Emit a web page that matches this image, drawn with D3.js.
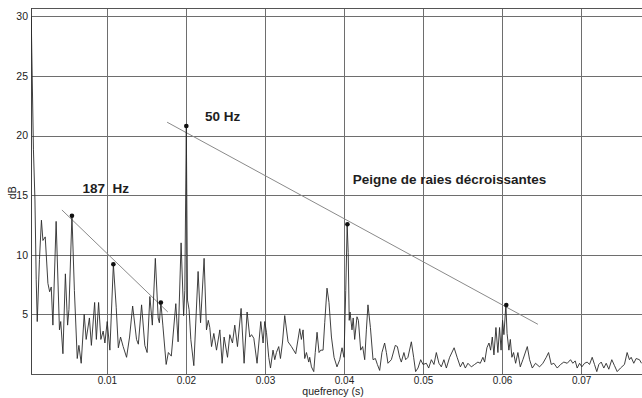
<!DOCTYPE html>
<html>
<head>
<meta charset="utf-8">
<script src="https://cdn.jsdelivr.net/npm/d3@7"></script>
<style>
  html, body { margin: 0; padding: 0; background: #fff; }
  svg { display: block; }
  text { font-family: "Liberation Sans", Arial, sans-serif; }
</style>
</head>
<body>
<svg id="chart" width="642" height="398"></svg>
<script>
// Cepstrum trace: quefrency (ms) and level (dB)
const quefrencyMs = [
  0.43,0.50,0.71,0.90,1.06,1.19,1.47,1.72,1.91,2.20,2.54,2.76,2.96,3.17,3.58,4.00,4.16,4.44,4.75,5.03,
  5.20,5.58,5.89,6.25,6.46,6.75,7.13,7.38,7.79,8.04,8.45,8.67,8.95,9.24,9.53,9.75,10.04,10.38,10.82,11.18,
  11.45,11.73,12.06,12.49,12.87,13.26,13.75,13.98,14.39,14.80,15.09,15.44,15.75,16.13,16.49,16.64,16.83,17.08,17.50,17.78,
  18.15,18.72,19.01,19.39,19.71,19.86,20.05,20.20,20.40,20.62,21.00,21.54,21.85,22.30,22.60,22.83,23.02,23.24,23.53,23.87,
  24.29,24.58,24.83,25.26,25.55,25.89,26.18,26.52,26.98,27.36,27.74,28.08,28.30,28.59,29.00,29.47,29.76,29.97,30.19,30.48,
  30.70,31.02,31.24,31.45,31.74,31.96,32.21,32.50,32.92,33.35,33.89,34.40,34.61,34.82,35.03,35.25,35.54,35.66,35.88,36.17,
  36.36,36.59,36.84,37.05,37.35,37.56,37.85,38.10,38.41,38.74,39.11,39.46,39.75,40.00,40.22,40.40,40.53,40.66,40.76,41.01,
  41.16,41.35,41.64,41.82,42.11,42.36,42.62,42.83,43.03,43.34,43.67,43.97,44.22,44.51,44.80,45.14,45.36,45.56,45.99,46.49,
  46.75,47.04,47.25,47.58,47.80,48.09,48.52,48.81,49.06,49.36,49.70,49.99,50.42,50.71,51.05,51.38,51.68,52.01,52.31,52.64,
  52.95,53.36,53.93,54.31,54.72,55.04,55.35,55.68,56.11,56.52,56.94,57.24,57.57,57.79,58.08,58.34,58.55,58.76,58.97,59.22,
  59.47,59.68,59.87,60.06,60.23,60.48,60.63,60.86,61.04,61.24,61.45,61.71,62.00,62.30,62.63,63.19,63.48,63.82,64.23,64.74,
  65.16,65.59,65.88,66.22,66.55,66.98,67.40,67.81,68.24,68.66,68.95,69.25,69.50,69.80,70.09,70.43,70.77,71.06,71.40,71.69,
  71.98,72.24,72.54,72.87,73.17,73.50,73.88,74.22,74.56,74.98,75.48,75.82,76.11,76.33,76.66,76.96,77.38,77.64
];
const levelDb = [
  30.0,27.0,18.8,14.6,7.9,4.4,9.6,12.9,11.2,11.5,7.6,6.9,7.3,4.1,12.8,3.7,4.4,1.7,8.4,4.1,
  5.4,13.3,7.0,1.3,2.4,0.9,5.0,2.9,4.7,2.4,6.0,2.9,6.0,2.9,3.6,2.6,4.4,2.0,9.2,5.6,
  2.2,3.1,2.3,1.4,3.1,5.7,2.9,2.5,5.8,2.4,1.8,6.5,4.1,9.7,4.7,4.3,6.0,4.1,0.8,1.8,
  1.5,5.9,2.7,11.0,4.9,7.0,20.8,6.2,5.4,2.9,0.7,8.6,4.3,9.7,3.7,4.5,3.9,2.3,3.4,2.0,
  3.7,0.9,3.1,1.4,3.3,2.6,4.1,2.3,5.5,0.9,5.2,3.1,3.3,3.0,0.9,4.4,2.6,4.4,3.5,1.4,
  0.5,2.0,1.2,1.8,2.3,1.3,2.6,4.9,2.7,2.3,1.7,3.8,2.9,3.7,1.3,1.8,1.0,1.4,0.6,0.2,
  1.8,3.5,1.8,2.0,2.0,4.3,7.2,6.0,3.1,1.4,0.6,1.2,2.2,1.4,7.0,12.5,10.2,4.5,5.2,3.7,
  4.7,2.9,4.8,4.5,2.0,2.3,1.2,3.7,5.8,3.9,1.2,1.3,0.8,0.3,1.8,2.6,1.8,0.9,1.2,2.4,
  2.3,1.4,1.0,1.8,1.2,1.4,2.7,1.4,0.2,0.5,1.2,0.8,0.9,0.5,1.2,0.8,1.8,0.9,0.6,1.2,
  0.5,1.4,2.2,1.4,0.6,1.0,0.5,0.9,0.6,0.8,1.0,0.9,1.4,1.0,2.2,2.6,2.0,3.1,1.6,3.9,
  1.8,3.9,2.0,4.5,3.3,5.8,3.4,2.0,2.9,1.4,1.8,0.9,1.8,0.6,1.2,2.3,1.2,0.5,0.9,0.6,
  0.9,1.4,1.8,0.8,0.9,0.5,0.8,1.0,0.9,1.2,0.9,1.1,0.5,0.9,0.6,0.9,1.0,0.8,1.4,0.8,
  0.2,0.8,1.0,0.5,0.9,0.4,1.2,0.7,0.2,0.5,0.8,1.8,1.2,1.4,0.9,1.3,1.2,0.9
];

// Marked rahmonic peaks (ms, dB)
const peakMs = [5.58, 10.82, 16.83, 20.05, 40.43, 60.53];
const peakDb = [13.28, 9.2, 6.0, 20.8, 12.56, 5.79];

// Decay guide lines: [startMs, startDb, endMs, endDb]
const guideComb187 = [4.31, 13.76, 17.71, 5.20];
const guideComb50 = [17.62, 21.12, 64.53, 4.17];

// Axes
const xTicks = [0.01, 0.02, 0.03, 0.04, 0.05, 0.06, 0.07];
const yTicks = [5, 10, 15, 20, 25, 30];

// Annotations
const notes = [
  { text: "187  Hz", q: 0.0069, db: 15.15 },
  { text: "50 Hz", q: 0.0224, db: 21.225 },
  { text: "Peigne de raies décroissantes", q: 0.0411, db: 15.9 }
];

const svg = d3.select("#chart");
const plotLeft = 31, plotRight = 642, plotTop = 8, plotBottom = 374;

const x = d3.scaleLinear().domain([0.0004, 0.0777]).range([plotLeft, plotRight]);
const y = d3.scaleLinear().domain([0, 30.7]).range([plotBottom, plotTop]);

const gridColor = "#6e6e6e";

// Grid
const grid = svg.append("g").attr("shape-rendering", "crispEdges");
grid.selectAll("line.v").data(xTicks).join("line")
  .attr("class", "v")
  .attr("x1", d => Math.round(x(d)) + 0.5).attr("x2", d => Math.round(x(d)) + 0.5)
  .attr("y1", plotTop).attr("y2", plotBottom)
  .attr("stroke", gridColor).attr("stroke-width", 1);
grid.selectAll("line.h").data(yTicks).join("line")
  .attr("class", "h")
  .attr("x1", plotLeft).attr("x2", plotRight)
  .attr("y1", d => Math.round(y(d)) + 0.5).attr("y2", d => Math.round(y(d)) + 0.5)
  .attr("stroke", gridColor).attr("stroke-width", 1);

// Frame: top, left and bottom edges
grid.append("line").attr("x1", plotLeft).attr("x2", plotRight).attr("y1", plotTop + 0.5).attr("y2", plotTop + 0.5)
  .attr("stroke", "#555");
grid.append("line").attr("x1", plotLeft + 0.5).attr("x2", plotLeft + 0.5).attr("y1", plotTop).attr("y2", plotBottom)
  .attr("stroke", "#444");
grid.append("line").attr("x1", plotLeft).attr("x2", plotRight).attr("y1", plotBottom + 0.5).attr("y2", plotBottom + 0.5)
  .attr("stroke", "#555");

// Axis labels via d3 axes (no domain path / tick marks)
const xAxis = svg.append("g").attr("transform", `translate(0,${plotBottom})`)
  .call(d3.axisBottom(x).tickValues(xTicks).tickFormat(d3.format(".2f")).tickSize(0).tickPadding(3));
xAxis.select(".domain").remove();
xAxis.selectAll("text").attr("font-size", 10).attr("fill", "#222")
  .attr("font-family", "Liberation Sans, Arial, sans-serif");

const yAxis = svg.append("g").attr("transform", `translate(${plotLeft},0)`)
  .call(d3.axisLeft(y).tickValues(yTicks).tickFormat(d3.format("d")).tickSize(0).tickPadding(3));
yAxis.select(".domain").remove();
yAxis.selectAll("text").attr("font-size", 10.5).attr("fill", "#222")
  .attr("font-family", "Liberation Sans, Arial, sans-serif");

svg.append("text").attr("x", 333).attr("y", 395)
  .attr("text-anchor", "middle").attr("font-size", 10.5).attr("fill", "#222")
  .text("quefrency (s)");
svg.append("text").attr("transform", `translate(16,${y(15.2)}) rotate(-90)`)
  .attr("text-anchor", "middle").attr("font-size", 10.5).attr("fill", "#222")
  .text("dB");

// Clip for the trace
svg.append("clipPath").attr("id", "plotClip").append("rect")
  .attr("x", plotLeft).attr("y", plotTop).attr("width", plotRight - plotLeft).attr("height", plotBottom - plotTop);

// Guide lines
[guideComb187, guideComb50].forEach(g => {
  svg.append("line")
    .attr("x1", x(g[0] / 1000)).attr("y1", y(g[1]))
    .attr("x2", x(g[2] / 1000)).attr("y2", y(g[3]))
    .attr("stroke", "#8a8a8a").attr("stroke-width", 1);
});

// Cepstrum trace
const pts = quefrencyMs.map((q, i) => [q / 1000, levelDb[i]]);
svg.append("path")
  .datum(pts)
  .attr("clip-path", "url(#plotClip)")
  .attr("fill", "none")
  .attr("stroke", "#2a2a2a")
  .attr("stroke-width", 0.9)
  .attr("stroke-linejoin", "round")
  .attr("d", d3.line().x(d => x(d[0])).y(d => y(d[1])));

// Peak markers
svg.selectAll("circle.peak").data(peakMs).join("circle")
  .attr("class", "peak")
  .attr("cx", d => x(d / 1000))
  .attr("cy", (d, i) => y(peakDb[i]))
  .attr("r", 2.3)
  .attr("fill", "#111");

// Annotations
svg.selectAll("text.note").data(notes).join("text")
  .attr("class", "note")
  .attr("x", d => x(d.q)).attr("y", d => y(d.db))
  .attr("font-size", 13.5).attr("font-weight", "bold").attr("fill", "#1e1e1e")
  .style("white-space", "pre")
  .text(d => d.text);
</script>
</body>
</html>
